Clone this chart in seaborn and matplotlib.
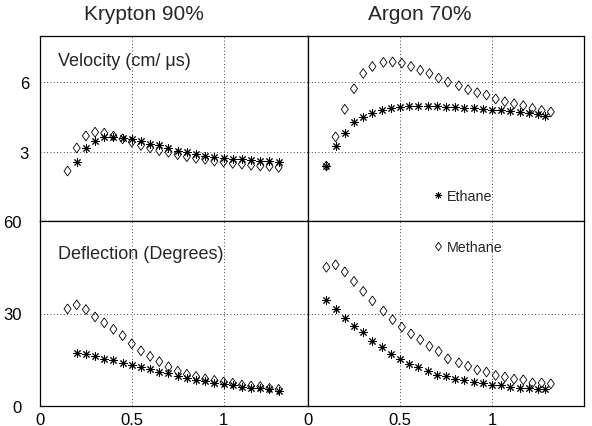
#!/usr/bin/env python
"""Drift velocity and Lorentz deflection in Kr/Ar mixtures, ethane vs methane quencher."""

import matplotlib

matplotlib.use("Agg")
import matplotlib.pyplot as plt
import pandas as pd
import seaborn as sns
from matplotlib.lines import Line2D

# Krypton 90% -- ethane (asterisks) and methane (diamonds)
KR_ETHANE_X = [0.20, 0.25, 0.30, 0.35, 0.40, 0.45, 0.50, 0.55, 0.60, 0.65, 0.70, 0.75,
               0.80, 0.85, 0.90, 0.95, 1.00, 1.05, 1.10, 1.15, 1.20, 1.25, 1.30]
KR_ETHANE_VEL = [2.54, 3.16, 3.46, 3.62, 3.65, 3.61, 3.54, 3.45, 3.35, 3.27, 3.17, 3.03,
                 2.97, 2.88, 2.83, 2.78, 2.74, 2.70, 2.67, 2.62, 2.59, 2.58, 2.54]
KR_ETHANE_DEF = [17.1, 16.8, 16.1, 15.3, 14.9, 14.1, 13.3, 12.5, 12.0, 11.1, 10.6, 9.8,
                 9.2, 8.5, 8.0, 7.4, 7.2, 6.7, 6.1, 5.9, 5.8, 5.4, 5.0]

KR_METHANE_X = [0.15, 0.20, 0.25, 0.30, 0.35, 0.40, 0.45, 0.50, 0.55, 0.60, 0.65, 0.70,
                0.75, 0.80, 0.85, 0.90, 0.95, 1.00, 1.05, 1.10, 1.15, 1.20, 1.25, 1.30]
KR_METHANE_VEL = [2.16, 3.16, 3.68, 3.84, 3.80, 3.67, 3.55, 3.41, 3.27, 3.16, 3.04, 2.97,
                  2.87, 2.78, 2.71, 2.67, 2.59, 2.55, 2.49, 2.46, 2.41, 2.38, 2.36, 2.32]
KR_METHANE_DEF = [31.5, 32.8, 31.3, 28.9, 27.0, 24.9, 22.8, 20.2, 17.9, 16.1, 14.4, 12.7,
                  11.3, 10.3, 9.6, 8.8, 8.3, 7.8, 7.4, 6.8, 6.5, 6.3, 5.7, 5.4]

# Argon 70%
AR_ETHANE_X = [0.10, 0.15, 0.20, 0.25, 0.30, 0.35, 0.40, 0.45, 0.50, 0.55, 0.60, 0.65, 0.70,
               0.75, 0.80, 0.85, 0.90, 0.95, 1.00, 1.05, 1.10, 1.15, 1.20, 1.25, 1.29]
AR_ETHANE_VEL = [2.38, 3.25, 3.81, 4.26, 4.49, 4.68, 4.81, 4.90, 4.93, 4.99, 4.99, 4.99, 4.97,
                 4.94, 4.93, 4.90, 4.87, 4.84, 4.80, 4.80, 4.75, 4.72, 4.67, 4.61, 4.55]
AR_ETHANE_DEF = [34.5, 31.5, 28.5, 26.1, 23.9, 21.2, 19.0, 16.8, 15.1, 13.5, 12.5, 11.2, 10.1,
                 9.6, 8.6, 8.3, 7.9, 7.5, 6.9, 6.8, 6.2, 6.0, 5.8, 5.5, 5.4]

AR_METHANE_X = [0.10, 0.15, 0.20, 0.25, 0.30, 0.35, 0.41, 0.46, 0.51, 0.56, 0.61, 0.66, 0.71,
                0.76, 0.82, 0.87, 0.92, 0.97, 1.02, 1.07, 1.12, 1.17, 1.22, 1.27, 1.32]
AR_METHANE_VEL = [2.38, 3.64, 4.83, 5.72, 6.38, 6.68, 6.86, 6.88, 6.83, 6.68, 6.52, 6.38, 6.18,
                  6.01, 5.85, 5.68, 5.55, 5.45, 5.28, 5.16, 5.07, 4.99, 4.87, 4.78, 4.72]
AR_METHANE_DEF = [45.0, 45.8, 43.5, 40.4, 37.2, 34.1, 30.8, 28.0, 25.6, 23.4, 21.5, 19.4, 17.7,
                  15.3, 14.0, 12.9, 11.7, 11.0, 9.9, 9.4, 8.7, 8.5, 7.5, 7.5, 7.2]

MIXTURES = ["Krypton 90%", "Argon 70%"]
X_TICKS = [0, 0.5, 1]
X_TICK_LABELS = ["0", "0.5", "1"]
VEL_TICKS = [3, 6]
DEF_TICKS = [0, 30, 60]

STAR = (8, 2, 0)
DIAMOND = [(0, 1), (0.72, 0), (0, -1), (-0.72, 0), (0, 1)]


def build_table() -> pd.DataFrame:
    parts = []
    series = [
        ("Krypton 90%", "Ethane", KR_ETHANE_X, KR_ETHANE_VEL, KR_ETHANE_DEF),
        ("Krypton 90%", "Methane", KR_METHANE_X, KR_METHANE_VEL, KR_METHANE_DEF),
        ("Argon 70%", "Ethane", AR_ETHANE_X, AR_ETHANE_VEL, AR_ETHANE_DEF),
        ("Argon 70%", "Methane", AR_METHANE_X, AR_METHANE_VEL, AR_METHANE_DEF),
    ]
    for mix, gas, xs, vel, dfl in series:
        parts.append(pd.DataFrame({"mixture": mix, "gas": gas, "quantity": "velocity", "x": xs, "value": vel}))
        parts.append(pd.DataFrame({"mixture": mix, "gas": gas, "quantity": "deflection", "x": xs, "value": dfl}))
    return pd.concat(parts, ignore_index=True)


def draw_panel(ax, df, mix, quantity):
    sub = df[(df["mixture"] == mix) & (df["quantity"] == quantity)]
    meth = sub[sub["gas"] == "Methane"]
    eth = sub[sub["gas"] == "Ethane"]
    sns.scatterplot(data=meth, x="x", y="value", marker=DIAMOND, s=50,
                    facecolor="none", edgecolor="black", linewidth=0.6, ax=ax, legend=False)
    sns.scatterplot(data=eth, x="x", y="value", marker=STAR, s=30,
                    color="black", linewidth=0.7, ax=ax, legend=False)
    ax.set_xlabel("")
    ax.set_ylabel("")
    ax.set_xticks(X_TICKS)
    ax.grid(True, color="black", linestyle=(0, (1, 3)), linewidth=0.6)
    ax.tick_params(direction="in", length=3, width=0.6, labelsize=12, colors="black")
    for spine in ax.spines.values():
        spine.set_visible(True)
        spine.set_color("black")
        spine.set_linewidth(0.9)


def main() -> int:
    sns.set_theme(style="white")
    plt.rcParams["font.family"] = ["Liberation Sans", "DejaVu Sans"]
    df = build_table()

    W, H = 592, 427
    fig = plt.figure(figsize=(W / 100, H / 100), dpi=100)
    cols = {"Krypton 90%": (40, 268, 1.46), "Argon 70%": (308, 276, 1.5)}
    # y tick label gap differs between the rows in the original
    rows = {"velocity": (37, (0, 8), 8), "deflection": (222, (0, 60), 13)}
    axes = {}
    for mix in MIXTURES:
        left, width, xmax = cols[mix]
        for quantity, (top, ylim, ypad) in rows.items():
            ax = fig.add_axes([left / W, 1 - (top + 185) / H, width / W, 185 / H])
            draw_panel(ax, df, mix, quantity)
            ax.set_xlim(0, xmax)
            ax.set_ylim(*ylim)
            ax.set_yticks(VEL_TICKS if quantity == "velocity" else DEF_TICKS)
            if quantity == "velocity":
                ax.set_xticklabels([])
            else:
                ax.set_xticklabels(X_TICK_LABELS)
                ax.tick_params(axis="x", pad=4)
            if mix != MIXTURES[0]:
                ax.set_yticklabels([])
            else:
                ax.tick_params(axis="y", pad=ypad)
            axes[(mix, quantity)] = ax

    axes[("Krypton 90%", "velocity")].text(0.067, 0.866, "Velocity (cm/ \u03bcs)", transform=axes[("Krypton 90%", "velocity")].transAxes,
                                            fontsize=13, va="center", ha="left")
    axes[("Krypton 90%", "deflection")].text(0.067, 0.825, "Deflection (Degrees)", transform=axes[("Krypton 90%", "deflection")].transAxes,
                                              fontsize=13, va="center", ha="left")

    eth_handle = Line2D([], [], marker=STAR, linestyle="", color="black", markersize=5, markeredgewidth=0.6)
    meth_handle = Line2D([], [], marker=DIAMOND, linestyle="", markerfacecolor="none",
                         markeredgecolor="black", markersize=6, markeredgewidth=0.6)
    axes[("Argon 70%", "velocity")].legend([eth_handle], ["Ethane"], loc="center left",
                                           bbox_to_anchor=(0.455, 0.137), frameon=False, fontsize=10.3,
                                           handlelength=0.6, handletextpad=0.3, borderpad=0, borderaxespad=0)
    axes[("Argon 70%", "deflection")].legend([meth_handle], ["Methane"], loc="center left",
                                             bbox_to_anchor=(0.455, 0.858), frameon=False, fontsize=10.3,
                                             handlelength=0.6, handletextpad=0.3, borderpad=0, borderaxespad=0)

    fig.text(144 / W, 1 - 15 / H, "Krypton 90%", fontsize=15, ha="center", va="center")
    fig.text(420 / W, 1 - 15 / H, "Argon 70%", fontsize=15, ha="center", va="center")

    fig.savefig("out.png", dpi=100)
    plt.close(fig)
    return 0


if __name__ == "__main__":
    raise SystemExit(main())
